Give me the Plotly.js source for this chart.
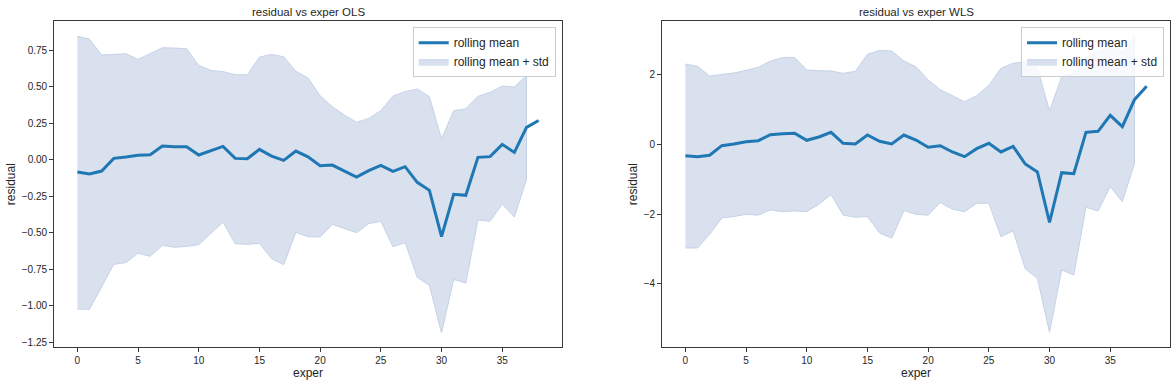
<!DOCTYPE html>
<html>
<head>
<meta charset="utf-8">
<script src="https://cdn.plot.ly/plotly-3.0.1.min.js"></script>
<style>html,body{margin:0;padding:0;background:#fff;}#chart{width:1176px;height:384px;}</style>
</head>
<body>
<div id="chart"></div>
<script>
// exper values
const experLine = [0,1,2,3,4,5,6,7,8,9,10,11,12,13,14,15,16,17,18,19,20,21,22,23,24,25,26,27,28,29,30,31,32,33,34,35,36,37,38];
const experBand = [0,1,2,3,4,5,6,7,8,9,10,11,12,13,14,15,16,17,18,19,20,21,22,23,24,25,26,27,28,29,30,31,32,33,34,35,36,37];

// OLS residual rolling stats
const meanOLS = [-0.084,-0.098,-0.078,0.009,0.018,0.030,0.034,0.094,0.089,0.089,0.032,0.059,0.091,0.009,0.007,0.071,0.025,-0.005,0.059,0.020,-0.041,-0.037,-0.078,-0.119,-0.075,-0.039,-0.080,-0.048,-0.155,-0.210,-0.527,-0.237,-0.244,0.016,0.021,0.105,0.050,0.221,0.269];
const upperOLS = [0.845,0.826,0.717,0.721,0.726,0.687,0.726,0.767,0.765,0.760,0.646,0.612,0.603,0.582,0.582,0.703,0.721,0.705,0.605,0.560,0.438,0.363,0.306,0.256,0.283,0.336,0.436,0.466,0.484,0.432,0.142,0.336,0.349,0.434,0.461,0.505,0.498,0.577];
const lowerOLS = [-1.023,-1.025,-0.870,-0.717,-0.705,-0.640,-0.662,-0.587,-0.600,-0.594,-0.582,-0.505,-0.427,-0.575,-0.580,-0.573,-0.678,-0.719,-0.498,-0.527,-0.530,-0.443,-0.470,-0.500,-0.438,-0.422,-0.596,-0.568,-0.806,-0.861,-1.187,-0.820,-0.845,-0.413,-0.422,-0.304,-0.393,-0.135];

// WLS residual rolling stats
const meanWLS = [-0.326,-0.355,-0.315,-0.040,0.009,0.075,0.103,0.275,0.304,0.315,0.115,0.209,0.344,0.029,0.009,0.266,0.086,0.009,0.266,0.123,-0.086,-0.040,-0.220,-0.355,-0.126,0.029,-0.220,-0.057,-0.564,-0.794,-2.235,-0.813,-0.842,0.344,0.372,0.831,0.504,1.278,1.662];
const upperWLS = [2.30,2.235,1.957,1.994,2.043,2.12,2.206,2.387,2.48,2.49,2.129,2.11,2.10,2.034,2.09,2.58,2.69,2.67,2.387,2.224,1.842,1.565,1.404,1.221,1.393,1.69,2.178,2.32,2.367,2.195,0.954,1.937,2.034,2.49,2.65,2.88,2.65,3.103];
const lowerWLS = [-2.97,-2.97,-2.58,-2.11,-2.07,-2.006,-2.03,-1.88,-1.93,-1.91,-1.93,-1.72,-1.44,-2.03,-2.09,-2.07,-2.54,-2.69,-1.90,-2.006,-2.03,-1.67,-1.86,-1.93,-1.69,-1.69,-2.65,-2.48,-3.57,-3.84,-5.39,-3.60,-3.745,-1.805,-1.91,-1.215,-1.645,-0.547];

const titles = ["residual vs exper OLS", "residual vs exper WLS"];
const xLabel = "exper";
const yLabel = "residual";
const lineName = "rolling mean";
const bandName = "rolling mean + std";

const FONT = "Liberation Sans, Arial, Helvetica, sans-serif";
const TXT = "#262626";
const LINE_COLOR = "#1f77b4";
const FILL = "rgb(217,225,238)";
const FILL_EDGE = "rgb(197,210,230)";

function band(xs, up, lo, xa, ya, leg) {
  return {
    x: xs.concat(xs.slice().reverse()),
    y: up.concat(lo.slice().reverse()),
    xaxis: xa, yaxis: ya,
    type: "scatter", mode: "lines", fill: "toself",
    fillcolor: FILL, line: {color: FILL_EDGE, width: 1},
    name: bandName, legend: leg, legendrank: 2, hoverinfo: "skip"
  };
}
function meanLine(xs, ys, xa, ya, leg) {
  return {
    x: xs, y: ys, xaxis: xa, yaxis: ya,
    type: "scatter", mode: "lines",
    line: {color: LINE_COLOR, width: 3},
    name: lineName, legend: leg, legendrank: 1
  };
}

const data = [
  band(experBand, upperOLS, lowerOLS, "x", "y", "legend"),
  meanLine(experLine, meanOLS, "x", "y", "legend"),
  band(experBand, upperWLS, lowerWLS, "x2", "y2", "legend2"),
  meanLine(experLine, meanWLS, "x2", "y2", "legend2")
];

const W = 1176, H = 384;
const axBase = {
  showgrid: false, zeroline: false, showline: true, mirror: true,
  linecolor: "#3a3a3a", linewidth: 1.2,
  ticks: "outside", ticklen: 4, tickwidth: 1, tickcolor: "#3a3a3a",
  tickfont: {family: FONT, size: 10, color: TXT},
  automargin: false
};
const yDom = [1 - 347/H, 1 - 21.3/H];

const layout = {
  width: W, height: H,
  margin: {l: 0, r: 0, t: 0, b: 0},
  paper_bgcolor: "#fff", plot_bgcolor: "#fff",
  font: {family: FONT, color: TXT},
  showlegend: true,
  xaxis: Object.assign({}, axBase, {
    domain: [54.3/W, 561.7/W], range: [-1.9, 39.9], tickmode: "linear", tick0: 0, dtick: 5,
    anchor: "y", title: {text: xLabel, font: {family: FONT, size: 12, color: TXT}, standoff: 1}
  }),
  yaxis: Object.assign({}, axBase, {
    domain: yDom, range: [-1.283, 0.948], tickmode: "linear", tick0: 0, dtick: 0.25, tickformat: ".2f",
    anchor: "x", title: {text: yLabel, font: {family: FONT, size: 12, color: TXT}, standoff: 3}
  }),
  xaxis2: Object.assign({}, axBase, {
    domain: [662.3/W, 1169.7/W], range: [-1.9, 39.9], tickmode: "linear", tick0: 0, dtick: 5,
    anchor: "y2", title: {text: xLabel, font: {family: FONT, size: 12, color: TXT}, standoff: 1}
  }),
  yaxis2: Object.assign({}, axBase, {
    domain: yDom, range: [-5.808, 3.524], tickmode: "linear", tick0: 0, dtick: 2,
    anchor: "x2", title: {text: yLabel, font: {family: FONT, size: 12, color: TXT}, standoff: 3}
  }),
  legend: {
    x: 555.7/W, y: 1 - 27.3/H, xanchor: "right", yanchor: "top",
    bgcolor: "rgba(255,255,255,0.8)", bordercolor: "#cccccc", borderwidth: 1,
    font: {family: FONT, size: 12, color: TXT}, tracegroupgap: 0, itemwidth: 30
  },
  legend2: {
    x: 1164/W, y: 1 - 27.3/H, xanchor: "right", yanchor: "top",
    bgcolor: "rgba(255,255,255,0.8)", bordercolor: "#cccccc", borderwidth: 1,
    font: {family: FONT, size: 12, color: TXT}, tracegroupgap: 0, itemwidth: 30
  },
  annotations: [
    {text: titles[0], xref: "paper", yref: "paper", x: (54.3+561.7)/2/W, y: 1 - 12/H,
     xanchor: "center", yanchor: "middle", showarrow: false, font: {family: FONT, size: 11.5, color: TXT}},
    {text: titles[1], xref: "paper", yref: "paper", x: (662.3+1169.7)/2/W, y: 1 - 12/H,
     xanchor: "center", yanchor: "middle", showarrow: false, font: {family: FONT, size: 11.5, color: TXT}}
  ]
};

Plotly.newPlot("chart", data, layout, {displayModeBar: false, staticPlot: true});
</script>
</body>
</html>
